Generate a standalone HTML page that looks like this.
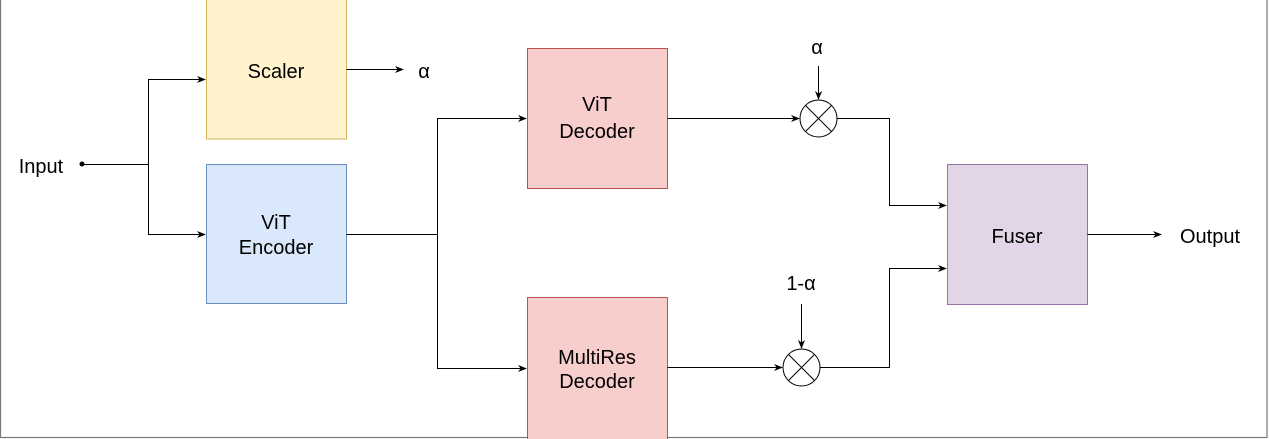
<!DOCTYPE html>
<html><head><style>
html,body{margin:0;padding:0;background:#fff;}
svg{display:block;}
text{font-family:"Liberation Sans",sans-serif;font-size:20px;fill:#000;}
</style></head><body>
<svg width="1269" height="439" viewBox="0 0 1269 439" xmlns="http://www.w3.org/2000/svg">
<defs>
<marker id="a" viewBox="0 0 10 10" refX="9" refY="5" markerWidth="9" markerHeight="9" orient="auto" markerUnits="userSpaceOnUse">
<path d="M0,1 L10,5 L0,9 L3,5 z" fill="#000"/>
</marker>
</defs>
<rect x="0.5" y="-5" width="1266.5" height="442.5" fill="none" stroke="#777" stroke-width="1.2"/>
<rect x="206.5" y="-5" width="140" height="144" fill="#fff2cc" stroke="#d6b656"/>
<rect x="206.5" y="164.5" width="140" height="139" fill="#dae8fc" stroke="#6c8ebf"/>
<rect x="527.5" y="48.5" width="140" height="140" fill="#f8cecc" stroke="#b85450"/>
<rect x="527.5" y="297.5" width="140" height="145" fill="#f8cecc" stroke="#b85450"/>
<rect x="947.5" y="164.5" width="140" height="140" fill="#e1d5e7" stroke="#9673a6"/>
<g fill="none" stroke="#000" stroke-width="1">
<circle cx="82" cy="164" r="2" fill="#000"/>
<path d="M82,164.5 H148.5 V79.5 H205" marker-end="url(#a)"/>
<path d="M148.5,164.5 V234.5 H205" marker-end="url(#a)"/>
<path d="M346.5,69.5 H403" marker-end="url(#a)"/>
<path d="M346.5,234.5 H437.5 V118.5 H526" marker-end="url(#a)"/>
<path d="M437.5,234.5 V368.5 H526" marker-end="url(#a)"/>
<path d="M667.5,118.5 H799" marker-end="url(#a)"/>
<path d="M818.5,66 V99" marker-end="url(#a)"/>
<circle cx="818.5" cy="118.5" r="18.5"/>
<path d="M805.4,105.4 L831.6,131.6 M831.6,105.4 L805.4,131.6"/>
<path d="M837,118.5 H889.5 V205.5 H946" marker-end="url(#a)"/>
<path d="M667.5,367.5 H782" marker-end="url(#a)"/>
<path d="M801.5,304 V348" marker-end="url(#a)"/>
<circle cx="801.5" cy="367.5" r="18.5"/>
<path d="M788.4,354.4 L814.6,380.6 M814.6,354.4 L788.4,380.6"/>
<path d="M820,367.5 H889.5 V268.5 H946" marker-end="url(#a)"/>
<path d="M1087.5,234.5 H1161" marker-end="url(#a)"/>
</g>
<g text-anchor="middle">
<text x="276" y="78">Scaler</text>
<text x="276" y="229">ViT</text>
<text x="276" y="254">Encoder</text>
<text x="597" y="111">ViT</text>
<text x="597" y="138">Decoder</text>
<text x="597" y="364">MultiRes</text>
<text x="597" y="388">Decoder</text>
<text x="1017" y="243">Fuser</text>
<text x="41" y="173">Input</text>
<text x="424" y="78">α</text>
<text x="817" y="54">α</text>
<text x="801" y="290">1-α</text>
<text x="1210" y="243">Output</text>
</g>
</svg>
</body></html>
